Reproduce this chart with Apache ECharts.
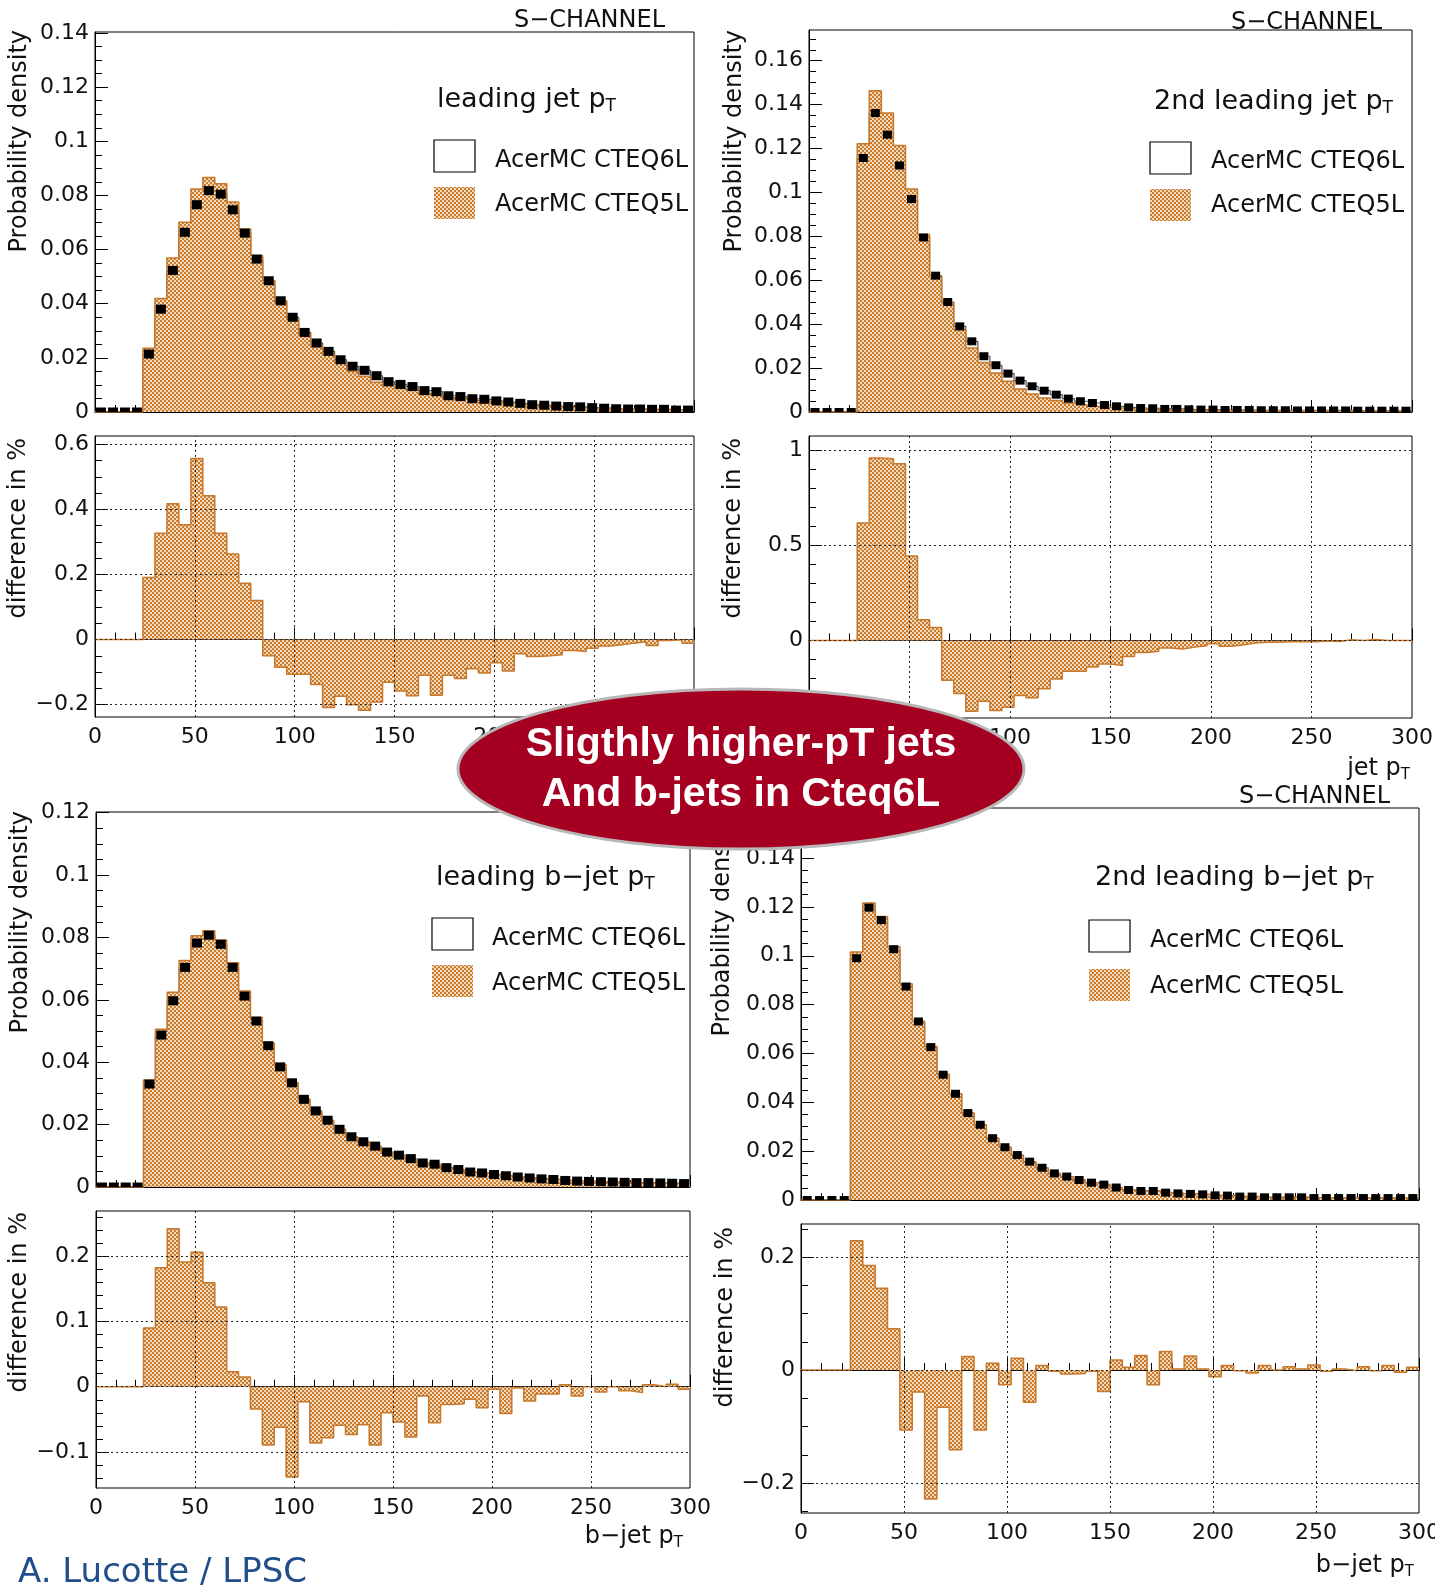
<!DOCTYPE html>
<html>
<head>
<meta charset="utf-8">
<script src="https://cdn.jsdelivr.net/npm/echarts@6/dist/echarts.min.js"></script>
<style>
  html, body { margin: 0; padding: 0; background: #fff; }
  #chart { width: 1435px; height: 1588px; }
</style>
</head>
<body>
<div id="chart"></div>
<script>
// 50 bins of 6 GeV, 0 - 300
const binEdges = [0, 6, 12, 18, 24, 30, 36, 42, 48, 54, 60, 66, 72, 78, 84, 90, 96, 102, 108, 114,
  120, 126, 132, 138, 144, 150, 156, 162, 168, 174, 180, 186, 192, 198, 204, 210, 216, 222, 228, 234,
  240, 246, 252, 258, 264, 270, 276, 282, 288, 294, 300]

// leading jet pT
const tlCteq5 = [0, 0, 0, 0, 0.0236, 0.0419, 0.0569, 0.0701, 0.0824, 0.0866,
  0.0843, 0.0776, 0.0676, 0.0578, 0.0486, 0.0408, 0.0344, 0.0288, 0.0246, 0.0212,
  0.0181, 0.0150, 0.0132, 0.0110, 0.0097, 0.0088, 0.0080, 0.0068, 0.0064, 0.0053,
  0.0049, 0.0043, 0.0041, 0.0036, 0.0033, 0.0029, 0.0025, 0.0023, 0.0020, 0.0018,
  0.0017, 0.0015, 0.0013, 0.0011, 0.0010, 0.0010, 0.0009, 0.0009, 0.0007, 0.0007]
const tlCteq6 = [0, 0, 0, 0, 0.0214, 0.0380, 0.0523, 0.0664, 0.0766, 0.0818,
  0.0805, 0.0747, 0.0661, 0.0565, 0.0485, 0.0411, 0.0350, 0.0294, 0.0255, 0.0224,
  0.0193, 0.0169, 0.0154, 0.0134, 0.0112, 0.0102, 0.0094, 0.0079, 0.0075, 0.0060,
  0.0057, 0.0049, 0.0047, 0.0041, 0.0037, 0.0032, 0.0027, 0.0025, 0.0022, 0.0020,
  0.0019, 0.0016, 0.0014, 0.0012, 0.0011, 0.0011, 0.0010, 0.0010, 0.0007, 0.0007]
const tlDiff = [0, 0, 0, 0, 0.191, 0.327, 0.417, 0.353, 0.556, 0.442,
  0.327, 0.263, 0.173, 0.120, -0.050, -0.085, -0.107, -0.107, -0.138, -0.209,
  -0.174, -0.200, -0.217, -0.192, -0.131, -0.158, -0.173, -0.110, -0.171, -0.110,
  -0.120, -0.090, -0.103, -0.071, -0.097, -0.044, -0.052, -0.050, -0.047, -0.034,
  -0.037, -0.027, -0.020, -0.016, -0.011, -0.007, -0.018, -0.003, -0.001, -0.011]

// 2nd leading jet pT
const trCteq5 = [0, 0, 0, 0, 0.1222, 0.1463, 0.1362, 0.1214, 0.1016, 0.0808,
  0.0621, 0.0496, 0.0375, 0.0291, 0.0226, 0.0178, 0.0140, 0.0105, 0.0082, 0.0064,
  0.0052, 0.0041, 0.0032, 0.0026, 0.0021, 0.0018, 0.0015, 0.0013, 0.0012, 0.0010,
  0.0009, 0.0009, 0.0008, 0.0008, 0.0007, 0.0007, 0.0006, 0.0006, 0.0006, 0.0006,
  0.0006, 0.0006, 0.0005, 0.0005, 0.0005, 0.0005, 0.0005, 0.0005, 0.0005, 0.0005]
const trCteq6 = [0, 0, 0, 0, 0.1157, 0.1362, 0.1263, 0.1123, 0.0970, 0.0795,
  0.0621, 0.0501, 0.0390, 0.0322, 0.0254, 0.0213, 0.0175, 0.0143, 0.0117, 0.0097,
  0.0079, 0.0061, 0.0049, 0.0041, 0.0032, 0.0026, 0.0021, 0.0018, 0.0017, 0.0014,
  0.0014, 0.0012, 0.0011, 0.0011, 0.0009, 0.0009, 0.0009, 0.0008, 0.0008, 0.0008,
  0.0007, 0.0007, 0.0007, 0.0007, 0.0007, 0.0006, 0.0006, 0.0006, 0.0006, 0.0006]
const trDiff = [0, 0, 0, 0, 0.617, 0.958, 0.953, 0.927, 0.443, 0.108,
  0.068, -0.209, -0.279, -0.371, -0.319, -0.368, -0.350, -0.289, -0.301, -0.253,
  -0.202, -0.162, -0.162, -0.139, -0.124, -0.131, -0.084, -0.063, -0.057, -0.040,
  -0.045, -0.035, -0.028, -0.017, -0.031, -0.024, -0.014, -0.010, -0.009, -0.007,
  -0.005, -0.007, -0.003, -0.005, 0.004, 0, 0.005, 0, 0, 0]

// leading b-jet pT
const blCteq5 = [0, 0, 0, 0, 0.0343, 0.0506, 0.0624, 0.0726, 0.0805, 0.0821,
  0.0792, 0.0719, 0.0628, 0.0543, 0.0462, 0.0393, 0.0335, 0.0283, 0.0243, 0.0213,
  0.0185, 0.0161, 0.0143, 0.0129, 0.0111, 0.0100, 0.0089, 0.0077, 0.0071, 0.0061,
  0.0055, 0.0047, 0.0044, 0.0040, 0.0035, 0.0032, 0.0028, 0.0026, 0.0024, 0.0021,
  0.0019, 0.0018, 0.0017, 0.0016, 0.0015, 0.0014, 0.0014, 0.0013, 0.0012, 0.0011]
const blCteq6 = [0, 0, 0, 0, 0.0330, 0.0487, 0.0597, 0.0704, 0.0782, 0.0807,
  0.0778, 0.0704, 0.0612, 0.0532, 0.0453, 0.0385, 0.0334, 0.0281, 0.0244, 0.0214,
  0.0185, 0.0161, 0.0145, 0.0131, 0.0112, 0.0102, 0.0091, 0.0077, 0.0073, 0.0062,
  0.0056, 0.0048, 0.0045, 0.0040, 0.0036, 0.0032, 0.0029, 0.0026, 0.0024, 0.0021,
  0.0019, 0.0018, 0.0017, 0.0016, 0.0015, 0.0014, 0.0014, 0.0013, 0.0012, 0.0011]
const blDiff = [0, 0, 0, 0, 0.090, 0.182, 0.242, 0.191, 0.206, 0.159,
  0.122, 0.023, 0.015, -0.034, -0.089, -0.062, -0.138, -0.023, -0.086, -0.078,
  -0.059, -0.073, -0.058, -0.089, -0.040, -0.054, -0.077, -0.014, -0.055, -0.027,
  -0.026, -0.019, -0.032, -0.004, -0.041, -0.002, -0.022, -0.011, -0.011, 0.003,
  -0.014, 0, -0.008, 0, -0.006, -0.009, 0.003, 0, 0.004, -0.004]

// 2nd leading b-jet pT
const brCteq5 = [0, 0, 0, 0, 0.1015, 0.1216, 0.1161, 0.1038, 0.0885, 0.0731,
  0.0629, 0.0515, 0.0435, 0.0356, 0.0308, 0.0253, 0.0216, 0.0181, 0.0156, 0.0130,
  0.0107, 0.0095, 0.0081, 0.0070, 0.0062, 0.0051, 0.0041, 0.0037, 0.0036, 0.0030,
  0.0027, 0.0025, 0.0023, 0.0019, 0.0018, 0.0014, 0.0014, 0.0011, 0.0011, 0.0011,
  0.0011, 0.0009, 0.0008, 0.0008, 0.0008, 0.0008, 0.0008, 0.0008, 0.0008, 0.0008]
const brCteq6 = [0, 0, 0, 0, 0.0990, 0.1197, 0.1146, 0.1027, 0.0874, 0.0731,
  0.0626, 0.0513, 0.0435, 0.0356, 0.0308, 0.0253, 0.0216, 0.0184, 0.0157, 0.0132,
  0.0109, 0.0096, 0.0082, 0.0071, 0.0063, 0.0051, 0.0041, 0.0037, 0.0037, 0.0030,
  0.0027, 0.0025, 0.0023, 0.0019, 0.0018, 0.0014, 0.0014, 0.0011, 0.0011, 0.0011,
  0.0011, 0.0008, 0.0008, 0.0008, 0.0008, 0.0008, 0.0008, 0.0008, 0.0008, 0.0008]
const brDiff = [0, 0, 0, 0, 0.229, 0.185, 0.145, 0.073, -0.106, -0.039,
  -0.228, -0.066, -0.141, 0.024, -0.106, 0.012, -0.026, 0.021, -0.057, 0.008,
  -0.002, -0.007, -0.006, -0.002, -0.038, 0.018, 0.005, 0.026, -0.026, 0.033,
  0.002, 0.025, 0.002, -0.012, 0.008, -0.001, -0.005, 0.008, 0, 0.006,
  0.002, 0.009, -0.002, 0.002, -0.001, 0.006, -0.001, 0.008, -0.004, 0.005]

// tick labels
const xTicks = [0, 50, 100, 150, 200, 250, 300]
const gridX = [50, 100, 150, 200, 250]
const tlMainTicks = [0, 0.02, 0.04, 0.06, 0.08, 0.1, 0.12, 0.14]
const trMainTicks = [0, 0.02, 0.04, 0.06, 0.08, 0.1, 0.12, 0.14, 0.16]
const blMainTicks = [0, 0.02, 0.04, 0.06, 0.08, 0.1, 0.12]
const brMainTicks = [0, 0.02, 0.04, 0.06, 0.08, 0.1, 0.12, 0.14]
const tlDiffTicks = [-0.2, 0, 0.2, 0.4, 0.6]
const trDiffTicks = [0, 0.5, 1]
const blDiffTicks = [-0.1, 0, 0.1, 0.2]
const brDiffTicks = [-0.2, 0, 0.2]

const FONT = 'DejaVu Sans'
const HIST_LINE = '#c8782a'

// ROOT-like checker fill
const pat = document.createElement('canvas')
pat.width = 4
pat.height = 4
const pc = pat.getContext('2d')
pc.fillStyle = '#f0dbbf'
pc.fillRect(0, 0, 4, 4)
pc.fillStyle = '#cc7b2c'
pc.fillRect(0, 0, 2, 2)
pc.fillRect(2, 2, 2, 2)
const hatch = { type: 'pattern', image: pat, repeat: 'repeat' }

function fmt (v) {
  if (Math.abs(v) < 1e-9) return '0'
  const s = String(+Math.abs(v).toFixed(4))
  return (v < 0 ? '\u2212' : '') + s
}

function ticksBetween (lo, hi, step) {
  const out = []
  const n0 = Math.ceil(lo / step - 1e-9)
  const n1 = Math.floor(hi / step + 1e-9)
  for (let n = n0; n <= n1; n++) out.push(+(n * step).toFixed(6))
  return out
}

function stepData (vals) {
  const d = vals.map((v, i) => [binEdges[i], v])
  d.push([binEdges[binEdges.length - 1], vals[vals.length - 1]])
  return d
}

const option = {
  animation: false,
  backgroundColor: '#fff',
  grid: [],
  xAxis: [],
  yAxis: [],
  series: [],
  graphic: []
}

function addPanel (rect, yMin, yMax, majors, minorStep, showXLabels) {
  const g = option.grid.length
  option.grid.push({
    left: rect[0], top: rect[1], width: rect[2], height: rect[3],
    show: true, borderColor: '#000', borderWidth: 1, outerBoundsMode: 'none'
  })
  option.xAxis.push({
    gridIndex: g, type: 'value', min: 0, max: 300, interval: 50,
    axisLine: { show: true, lineStyle: { color: '#000', width: 1 } },
    axisTick: { show: true, inside: true, length: 12, lineStyle: { color: '#000' } },
    minorTick: { show: true, splitNumber: 5, length: 7, lineStyle: { color: '#000' } },
    axisLabel: {
      show: showXLabels, margin: 9, fontFamily: FONT, fontSize: 22, color: '#111',
      customValues: xTicks, formatter: fmt
    },
    splitLine: { show: false }
  })
  option.yAxis.push({
    gridIndex: g, type: 'value', min: yMin, max: yMax,
    axisLine: { show: true, lineStyle: { color: '#000', width: 1 } },
    axisTick: { show: true, inside: true, length: 13, customValues: majors, lineStyle: { color: '#000' } },
    axisLabel: { customValues: majors, margin: 6, fontFamily: FONT, fontSize: 22, color: '#111', formatter: fmt },
    splitLine: { show: false }
  })
  // overlay grid only for the minor ticks
  const m = option.grid.length
  option.grid.push({
    left: rect[0], top: rect[1], width: rect[2], height: rect[3],
    show: false, outerBoundsMode: 'none'
  })
  option.xAxis.push({ gridIndex: m, type: 'value', min: 0, max: 300, show: false })
  option.yAxis.push({
    gridIndex: m, type: 'value', min: yMin, max: yMax,
    axisLine: { show: false },
    axisTick: { show: true, inside: true, length: 7, customValues: ticksBetween(yMin, yMax, minorStep), lineStyle: { color: '#000' } },
    axisLabel: { show: false },
    splitLine: { show: false }
  })
  return g
}

function addMain (g, cteq5, cteq6, mark) {
  // CTEQ6L outline sits under the CTEQ5L fill
  option.series.push({
    type: 'line', xAxisIndex: g, yAxisIndex: g, data: stepData(cteq6), step: 'end',
    symbol: 'none', clip: true, silent: true, z: 1,
    lineStyle: { color: '#555', width: 1.2 }
  })
  option.series.push({
    type: 'line', xAxisIndex: g, yAxisIndex: g, data: stepData(cteq5), step: 'end',
    symbol: 'none', clip: true, silent: true, z: 2,
    lineStyle: { color: HIST_LINE, width: 1.5 },
    areaStyle: { color: hatch, opacity: 1 }
  })
  option.series.push({
    type: 'custom', xAxisIndex: g, yAxisIndex: g, clip: true, silent: true, z: 4,
    data: cteq6.map((v, i) => [(binEdges[i] + binEdges[i + 1]) / 2, v]),
    renderItem: function (params, api) {
      const p = api.coord([api.value(0), api.value(1)])
      return {
        type: 'rect',
        shape: { x: p[0] - mark[0] / 2, y: p[1] - mark[1] / 2, width: mark[0], height: mark[1] },
        style: { fill: '#000' }
      }
    }
  })
}

function addDiff (g, diff, majors) {
  option.series.push({
    type: 'line', xAxisIndex: g, yAxisIndex: g, data: stepData(diff), step: 'end',
    symbol: 'none', clip: true, silent: true, z: 2,
    lineStyle: { color: HIST_LINE, width: 1.5 },
    areaStyle: { color: hatch, opacity: 1 },
    markLine: {
      silent: true, symbol: ['none', 'none'], label: { show: false }, animation: false,
      lineStyle: { color: '#222', type: [2, 3], width: 1 },
      emphasis: { disabled: true },
      data: gridX.map(x => ({ xAxis: x })).concat(majors.map(y => ({ yAxis: y })))
    }
  })
}

// panels
const gTL = addPanel([95, 32, 599, 380], 0, 0.1404, tlMainTicks, 0.005, false)
const gTLd = addPanel([95, 436, 599, 281], -0.238, 0.6255, tlDiffTicks, 0.05, true)
const gTR = addPanel([809, 30, 603, 382], 0, 0.174, trMainTicks, 0.005, false)
const gTRd = addPanel([809, 436, 603, 282], -0.407, 1.073, trDiffTicks, 0.1, true)
const gBL = addPanel([96, 812, 594, 375], 0, 0.1202, blMainTicks, 0.005, false)
const gBLd = addPanel([96, 1211, 594, 277], -0.155, 0.269, blDiffTicks, 0.02, true)
const gBR = addPanel([801, 808, 618, 392], 0, 0.1605, brMainTicks, 0.005, false)
const gBRd = addPanel([801, 1224, 618, 289], -0.253, 0.2586, brDiffTicks, 0.05, true)

addMain(gTL, tlCteq5, tlCteq6, [10, 9])
addDiff(gTLd, tlDiff, tlDiffTicks)
addMain(gTR, trCteq5, trCteq6, [9, 8])
addDiff(gTRd, trDiff, trDiffTicks)
addMain(gBL, blCteq5, blCteq6, [10, 9])
addDiff(gBLd, blDiff, blDiffTicks)
addMain(gBR, brCteq5, brCteq6, [9, 8])
addDiff(gBRd, brDiff, brDiffTicks)

// texts
function text (x, y, str, size, align, extra) {
  const st = Object.assign({
    text: str, fontFamily: FONT, fontSize: size, fill: '#111',
    align: align, textAlign: align, verticalAlign: 'middle', textVerticalAlign: 'middle'
  }, extra || {})
  return { type: 'text', x: x, y: y, z: 50, silent: true, style: st }
}
function vtext (x, yTop, str) {
  const t = text(x, yTop, str, 24, 'right')
  t.rotation = Math.PI / 2
  return t
}
function ptText (x, y, str, size, align) {
  return text(x, y, str + '{s|T}', size, align, {
    lineHeight: size + 4,
    rich: { s: { fontFamily: FONT, fontSize: Math.round(size * 0.62), lineHeight: 14, verticalAlign: 'bottom', fill: '#111' } }
  })
}
function legend (bx, by1, by2, tx, ty1, ty2) {
  return [
    { type: 'rect', z: 50, silent: true, shape: { x: bx, y: by1, width: 41, height: 32 }, style: { fill: '#fff', stroke: '#000', lineWidth: 1.2 } },
    { type: 'rect', z: 50, silent: true, shape: { x: bx, y: by2, width: 41, height: 32 }, style: { fill: hatch } },
    text(tx, ty1, 'AcerMC CTEQ6L', 24, 'left'),
    text(tx, ty2, 'AcerMC CTEQ5L', 24, 'left')
  ]
}

option.graphic = [
  text(665, 21, 'S\u2212CHANNEL', 24, 'right'),
  text(1382, 23, 'S\u2212CHANNEL', 24, 'right'),
  text(662, 797, 'S\u2212CHANNEL', 24, 'right'),
  text(1390, 797, 'S\u2212CHANNEL', 24, 'right'),

  vtext(20, 30, 'Probability density'),
  vtext(735, 30, 'Probability density'),
  vtext(21, 811, 'Probability density'),
  vtext(723, 814, 'Probability density'),
  vtext(19, 438, 'difference in %'),
  vtext(734, 438, 'difference in %'),
  vtext(20, 1212, 'difference in %'),
  vtext(726, 1227, 'difference in %'),

  ptText(1410, 769, 'jet p', 24, 'right'),
  ptText(683, 1537, 'b\u2212jet p', 24, 'right'),
  ptText(1414, 1566, 'b\u2212jet p', 24, 'right'),

  ptText(437, 100, 'leading jet p', 27, 'left'),
  ptText(1154, 102, '2nd leading jet p', 27, 'left'),
  ptText(436, 878, 'leading b\u2212jet p', 27, 'left'),
  ptText(1095, 878, '2nd leading b\u2212jet p', 27, 'left'),
  ...legend(434, 140, 187, 495, 161, 205),
  ...legend(1150, 142, 189, 1211, 162, 206),
  ...legend(432, 918, 965, 492, 939, 984),
  ...legend(1089, 920, 969, 1150, 941, 987),

  {
    type: 'ellipse', z: 100, silent: true,
    shape: { cx: 741, cy: 769, rx: 283, ry: 80 },
    style: { fill: '#a50021', stroke: '#b8b8b8', lineWidth: 3 }
  },
  Object.assign(text(741, 745, 'Sligthly higher-pT jets', 41, 'center',
    { fontFamily: 'Liberation Sans', fontWeight: 'bold', fill: '#fff' }), { z: 101 }),
  Object.assign(text(741, 795, 'And b-jets in Cteq6L', 41, 'center',
    { fontFamily: 'Liberation Sans', fontWeight: 'bold', fill: '#fff' }), { z: 101 }),

  text(18, 1573, 'A. Lucotte / LPSC', 34, 'left', { fill: '#1f4e8a' })
]

const chart = echarts.init(document.getElementById('chart'), null, { renderer: 'canvas' })
chart.setOption(option)
</script>
</body>
</html>
